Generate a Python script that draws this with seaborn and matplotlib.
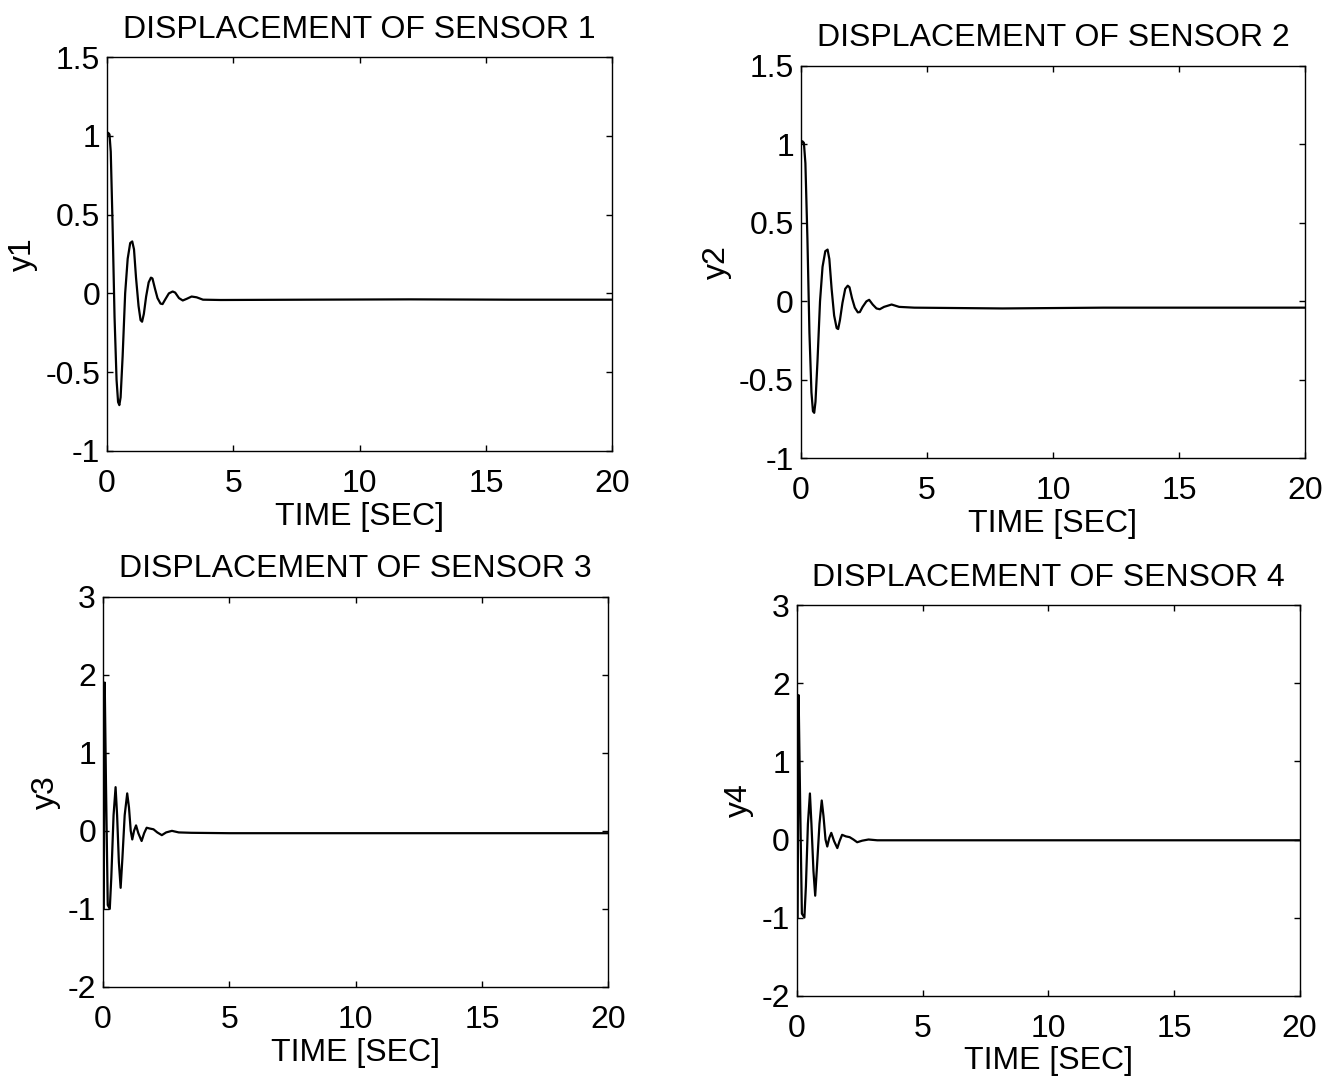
import matplotlib
matplotlib.use("Agg")
import matplotlib.pyplot as plt
from matplotlib.ticker import FuncFormatter
import seaborn as sns

# Sensor responses (time in s, displacement)
t1 = [0.0, 0.05, 0.1, 0.15, 0.22, 0.3, 0.38, 0.44, 0.49, 0.54, 0.62, 0.72, 0.82, 0.92, 1.0,
      1.07, 1.15, 1.25, 1.33, 1.39, 1.46, 1.55, 1.65, 1.74, 1.8, 1.9, 2.0, 2.12, 2.2, 2.3,
      2.45, 2.6, 2.7, 2.85, 3.0, 3.15, 3.35, 3.55, 3.8, 4.5, 8, 12, 16, 20]
y1 = [1.0, 1.02, 1.01, 0.9, 0.45, -0.15, -0.55, -0.69, -0.71, -0.66, -0.4, 0.0, 0.22, 0.32, 0.33,
      0.28, 0.1, -0.08, -0.17, -0.18, -0.13, -0.02, 0.07, 0.1, 0.095, 0.03, -0.03, -0.065, -0.068, -0.04,
      0.0, 0.012, 0.005, -0.03, -0.045, -0.035, -0.02, -0.025, -0.04, -0.042, -0.04, -0.038, -0.04, -0.04]

t2 = [0.0, 0.06, 0.12, 0.18, 0.26, 0.34, 0.42, 0.48, 0.53, 0.58, 0.66, 0.76, 0.86, 0.97, 1.06,
      1.13, 1.22, 1.32, 1.42, 1.48, 1.55, 1.65, 1.76, 1.86, 1.93, 2.03, 2.14, 2.26, 2.34, 2.45,
      2.6, 2.71, 2.85, 3.0, 3.13, 3.3, 3.6, 3.9, 4.5, 8, 12, 16, 20]
y2 = [1.0, 1.02, 1.01, 0.88, 0.4, -0.2, -0.58, -0.7, -0.71, -0.64, -0.38, 0.0, 0.22, 0.32, 0.33,
      0.27, 0.08, -0.09, -0.17, -0.176, -0.12, -0.01, 0.08, 0.1, 0.09, 0.02, -0.04, -0.07, -0.068, -0.035,
      0.0, 0.01, -0.02, -0.045, -0.05, -0.035, -0.02, -0.035, -0.04, -0.045, -0.04, -0.04, -0.04]

t3 = [0.0, 0.0, 0.03, 0.07, 0.12, 0.19, 0.27, 0.33, 0.42, 0.5, 0.56, 0.63, 0.7, 0.77, 0.86,
      0.96, 1.03, 1.1, 1.16, 1.23, 1.31, 1.4, 1.53, 1.63, 1.73, 1.85, 2.0, 2.15, 2.33, 2.5,
      2.73, 3.0, 3.5, 5, 10, 15, 20]
y3 = [0.0, -1.0, -1.0, 1.9, 0.6, -0.95, -1.0, -0.6, 0.2, 0.56, 0.2, -0.4, -0.73, -0.35, 0.2,
      0.48, 0.3, 0.0, -0.11, 0.0, 0.07, -0.03, -0.13, -0.03, 0.04, 0.03, 0.02, -0.02, -0.055, -0.02,
      0.0, -0.02, -0.025, -0.03, -0.03, -0.03, -0.03]

t4 = [0.0, 0.0, 0.03, 0.07, 0.13, 0.2, 0.3, 0.36, 0.44, 0.52, 0.58, 0.66, 0.73, 0.8, 0.9,
      0.99, 1.06, 1.14, 1.21, 1.29, 1.37, 1.48, 1.61, 1.7, 1.8, 1.95, 2.1, 2.25, 2.4, 2.6,
      2.85, 3.2, 4, 10, 15, 20]
y4 = [0.0, -1.0, -1.0, 1.85, 0.5, -0.95, -1.0, -0.6, 0.2, 0.59, 0.2, -0.4, -0.72, -0.35, 0.2,
      0.5, 0.3, 0.0, -0.09, 0.02, 0.085, -0.02, -0.11, -0.02, 0.06, 0.04, 0.03, 0.0, -0.035, -0.015,
      0.0, -0.01, -0.01, -0.01, -0.01, -0.01]

series = [(t1, y1), (t2, y2), (t3, y3), (t4, y4)]
ylims = [(-1, 1.5), (-1, 1.5), (-2, 3), (-2, 3)]
yticks = [[-1, -0.5, 0, 0.5, 1, 1.5], [-1, -0.5, 0, 0.5, 1, 1.5],
          [-2, -1, 0, 1, 2, 3], [-2, -1, 0, 1, 2, 3]]

sns.set_style("ticks")
plt.rcParams['font.family'] = ['Liberation Sans', 'DejaVu Sans']
plt.rcParams['axes.unicode_minus'] = False
plt.rcParams['text.color'] = 'black'
plt.rcParams['axes.labelcolor'] = 'black'

fig = plt.figure(figsize=(13.37, 10.81), dpi=100)
# axes boxes in figure fractions [left, bottom, width, height]
boxes = [[0.080, 0.583, 0.378, 0.364],
         [0.599, 0.576, 0.377, 0.363],
         [0.077, 0.087, 0.378, 0.361],
         [0.596, 0.079, 0.376, 0.361]]

fmt = FuncFormatter(lambda v, p: f"{v:g}")
fs = 23

for i, ((t, y), box) in enumerate(zip(series, boxes)):
    ax = fig.add_axes(box)
    sns.lineplot(x=t, y=y, ax=ax, color='black', linewidth=1.6,
                 sort=False, estimator=None)
    ax.set_xlim(0, 20)
    ax.set_ylim(*ylims[i])
    ax.set_xticks([0, 5, 10, 15, 20])
    ax.set_yticks(yticks[i])
    ax.xaxis.set_major_formatter(fmt)
    ax.yaxis.set_major_formatter(fmt)
    ax.tick_params(direction='in', length=4, width=1, top=True, right=True,
                   labelsize=fs, colors='black')
    ax.tick_params(axis='x', pad=13)
    ax.tick_params(axis='y', pad=5)
    for s in ax.spines.values():
        s.set_visible(True)
        s.set_color('black')
        s.set_linewidth(1)
    ax.set_title(f"DISPLACEMENT OF SENSOR {i + 1}", fontsize=fs, pad=14, color='black')
    ax.set_xlabel("TIME [SEC]", fontsize=fs, labelpad=2)
    ax.set_ylabel(f"y{i + 1}", fontsize=fs, labelpad=5)

fig.savefig("out.png", dpi=100)
